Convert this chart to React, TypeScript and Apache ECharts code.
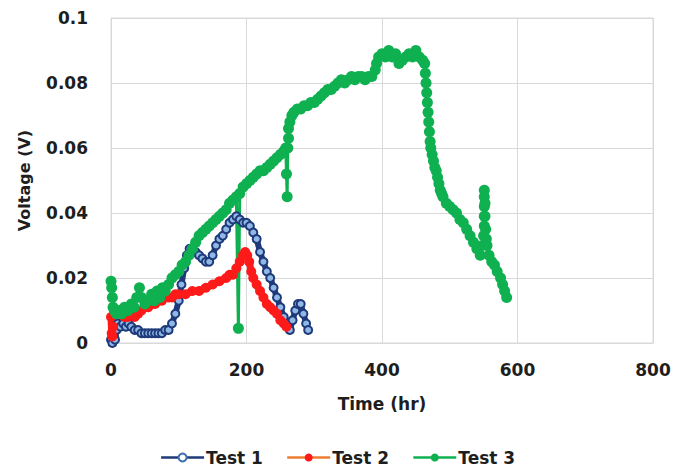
import React, { useEffect, useRef } from "react";
import * as echarts from "echarts";

const xTicks = [0, 200, 400, 600, 800];
const yTicks = [0, 0.02, 0.04, 0.06, 0.08, 0.1];
const seriesNames = ["Test 1", "Test 2", "Test 3"];

const test1: [number, number][] = [
  [0, 0.001], [2, 0.0], [4, 0.002], [6, 0.001], [8, 0.004], [10, 0.006], [14, 0.005], [18, 0.006],
  [22, 0.005], [26, 0.006], [30, 0.005], [35, 0.004], [40, 0.004], [45, 0.003], [50, 0.003],
  [55, 0.003], [60, 0.003], [65, 0.003], [70, 0.003], [75, 0.003], [80, 0.004], [85, 0.004],
  [90, 0.006], [95, 0.009], [100, 0.013], [104, 0.018], [108, 0.023], [112, 0.027], [116, 0.029],
  [120, 0.029], [125, 0.028], [130, 0.027], [135, 0.026], [140, 0.025], [145, 0.025], [150, 0.027],
  [155, 0.03], [160, 0.032], [165, 0.033], [170, 0.035], [175, 0.037], [180, 0.038], [185, 0.039],
  [190, 0.038], [195, 0.037], [200, 0.037], [205, 0.036], [210, 0.034], [215, 0.032], [220, 0.028],
  [225, 0.025], [230, 0.022], [235, 0.02], [240, 0.017], [245, 0.014], [250, 0.011], [255, 0.008],
  [260, 0.005], [264, 0.004], [268, 0.007], [272, 0.01], [276, 0.012], [280, 0.012], [284, 0.009],
  [288, 0.006], [291, 0.004],
];

const test2: [number, number][] = [
  [0, 0.008], [1, 0.003], [2, 0.002], [3, 0.005], [5, 0.009], [8, 0.01], [12, 0.009], [16, 0.01],
  [20, 0.008], [25, 0.008], [30, 0.009], [35, 0.008], [40, 0.009], [45, 0.01], [50, 0.011],
  [55, 0.011], [60, 0.012], [65, 0.012], [70, 0.013], [75, 0.013], [80, 0.014], [85, 0.014],
  [90, 0.014], [95, 0.015], [100, 0.015], [110, 0.015], [120, 0.016], [130, 0.016], [140, 0.017],
  [150, 0.018], [160, 0.019], [170, 0.02], [175, 0.021], [180, 0.021], [185, 0.023], [190, 0.025],
  [195, 0.027], [198, 0.028], [201, 0.027], [204, 0.025], [207, 0.022], [210, 0.02], [215, 0.018],
  [220, 0.016], [225, 0.014], [230, 0.012], [235, 0.011], [240, 0.01], [245, 0.009], [250, 0.007],
  [255, 0.006], [259, 0.005],
];

const test3: [number, number][] = [
  [0, 0.019], [1, 0.017], [2, 0.014], [3, 0.011], [5, 0.01], [8, 0.009], [12, 0.01], [16, 0.009],
  [20, 0.011], [25, 0.01], [30, 0.012], [34, 0.011], [38, 0.014], [42, 0.017], [45, 0.014],
  [50, 0.012], [55, 0.013], [60, 0.015], [64, 0.013], [68, 0.016], [72, 0.014], [76, 0.017],
  [80, 0.016], [85, 0.018], [90, 0.02], [95, 0.021], [100, 0.022], [105, 0.024], [110, 0.025],
  [115, 0.027], [120, 0.029], [125, 0.031], [130, 0.033], [135, 0.034], [140, 0.035], [145, 0.036],
  [150, 0.037], [155, 0.038], [160, 0.039], [165, 0.04], [170, 0.041], [175, 0.043], [180, 0.044],
  [185, 0.045], [188, 0.0045], [190, 0.046], [195, 0.048], [200, 0.049], [205, 0.05], [210, 0.051],
  [215, 0.052], [220, 0.053], [225, 0.053], [230, 0.054], [235, 0.055], [240, 0.056], [245, 0.057],
  [250, 0.058], [255, 0.059], [258, 0.06], [259, 0.052], [260, 0.045], [261, 0.06], [262, 0.063],
  [262, 0.066], [264, 0.068], [267, 0.07], [270, 0.071], [275, 0.072], [280, 0.072], [285, 0.073],
  [290, 0.073], [295, 0.074], [300, 0.074], [305, 0.075], [310, 0.076], [315, 0.077], [320, 0.078],
  [325, 0.078], [330, 0.079], [335, 0.08], [340, 0.081], [345, 0.08], [350, 0.081], [355, 0.082],
  [360, 0.081], [365, 0.082], [370, 0.082], [375, 0.081], [380, 0.082], [385, 0.082], [390, 0.084],
  [392, 0.086], [395, 0.088], [400, 0.089], [405, 0.088], [410, 0.09], [415, 0.088], [420, 0.089],
  [425, 0.086], [430, 0.087], [435, 0.088], [440, 0.089], [445, 0.088], [450, 0.09], [455, 0.088],
  [460, 0.087], [463, 0.086], [464, 0.083], [465, 0.08], [466, 0.077], [467, 0.074], [468, 0.071],
  [469, 0.068], [470, 0.065], [471, 0.062], [472, 0.06], [474, 0.058], [476, 0.056], [478, 0.054],
  [480, 0.053], [482, 0.051], [484, 0.049], [486, 0.047], [488, 0.046], [490, 0.045], [495, 0.043],
  [500, 0.042], [505, 0.041], [510, 0.04], [515, 0.038], [520, 0.037], [525, 0.035], [530, 0.033],
  [535, 0.031], [540, 0.029], [545, 0.027], [548, 0.03], [550, 0.033], [551, 0.036], [551, 0.039],
  [551, 0.042], [551, 0.045], [551, 0.047], [552, 0.043], [552, 0.039], [553, 0.035], [554, 0.032],
  [555, 0.03], [558, 0.027], [562, 0.025], [566, 0.024], [570, 0.022], [575, 0.02], [578, 0.018],
  [581, 0.016], [584, 0.014],
];

const FONT = "DejaVu Sans";
const TEXT = "#1e1e1e";
const GRIDC = "#d9d9d9";
const NAVY = "#1f3a7a";
const LIGHTBLUE = "#8fb8e6";
const RED = "#ff1a1a";
const ORANGE = "#ed7d31";
const GREEN = "#0fb050";

export default function App() {
  const ref = useRef<HTMLDivElement>(null);
  useEffect(() => {
    document.body.style.margin = "0";
    if (!ref.current) return;
    const chart = echarts.init(ref.current, null, { renderer: "svg" });
    chart.setOption({
      animation: false,
      backgroundColor: "#ffffff",
      grid: { left: 111, right: 22, top: 18, bottom: 130, show: true, borderColor: GRIDC, borderWidth: 1 },
      xAxis: {
        type: "value",
        min: xTicks[0],
        max: xTicks[xTicks.length - 1],
        interval: xTicks[1] - xTicks[0],
        name: "Time (hr)",
        nameLocation: "middle",
        nameGap: 52,
        nameTextStyle: { fontFamily: FONT, fontWeight: "bold", fontSize: 17, color: TEXT },
        axisLine: { show: true, lineStyle: { color: GRIDC, width: 1 } },
        axisTick: { show: false },
        axisLabel: { fontFamily: FONT, fontWeight: "bold", fontSize: 17, color: TEXT, margin: 18 },
        splitLine: { show: true, lineStyle: { color: GRIDC, width: 1 } },
      },
      yAxis: {
        type: "value",
        min: yTicks[0],
        max: yTicks[yTicks.length - 1],
        interval: 0.02,
        name: "Voltage (V)",
        nameLocation: "middle",
        nameGap: 79,
        nameTextStyle: { fontFamily: FONT, fontWeight: "bold", fontSize: 16, color: TEXT },
        axisLine: { show: true, lineStyle: { color: GRIDC, width: 1 } },
        axisTick: { show: false },
        axisLabel: {
          fontFamily: FONT, fontWeight: "bold", fontSize: 17, color: TEXT, margin: 23,
          formatter: (v: number) => String(Math.round(v * 100) / 100),
        },
        splitLine: { show: true, lineStyle: { color: GRIDC, width: 1 } },
      },
      legend: {
        bottom: 2,
        left: "center",
        itemWidth: 43,
        itemHeight: 10,
        itemGap: 23,
        textStyle: { fontFamily: FONT, fontWeight: "bold", fontSize: 17, color: TEXT, padding: [0, 0, 0, -3] },
        data: [
          { name: seriesNames[0], lineStyle: { color: NAVY, width: 2.5 }, itemStyle: { color: "#ffffff", borderColor: "#3f6fb5", borderWidth: 2 } },
          { name: seriesNames[1], lineStyle: { color: ORANGE, width: 2.5 }, itemStyle: { color: RED } },
          { name: seriesNames[2], lineStyle: { color: GREEN, width: 2.5 }, itemStyle: { color: GREEN } },
        ],
      },
      series: [
        {
          name: seriesNames[0],
          type: "line",
          data: test1,
          symbol: "circle",
          symbolSize: 8,
          lineStyle: { color: NAVY, width: 6 },
          itemStyle: { color: LIGHTBLUE, borderColor: NAVY, borderWidth: 2 },
        },
        {
          name: seriesNames[1],
          type: "line",
          data: test2,
          symbol: "circle",
          symbolSize: 10,
          lineStyle: { color: RED, width: 7 },
          itemStyle: { color: RED },
        },
        {
          name: seriesNames[2],
          type: "line",
          data: test3,
          symbol: "circle",
          symbolSize: 11,
          lineStyle: { color: GREEN, width: 3 },
          itemStyle: { color: GREEN },
        },
      ],
    });
    return () => chart.dispose();
  }, []);
  return <div ref={ref} style={{ width: 675, height: 473 }} />;
}
